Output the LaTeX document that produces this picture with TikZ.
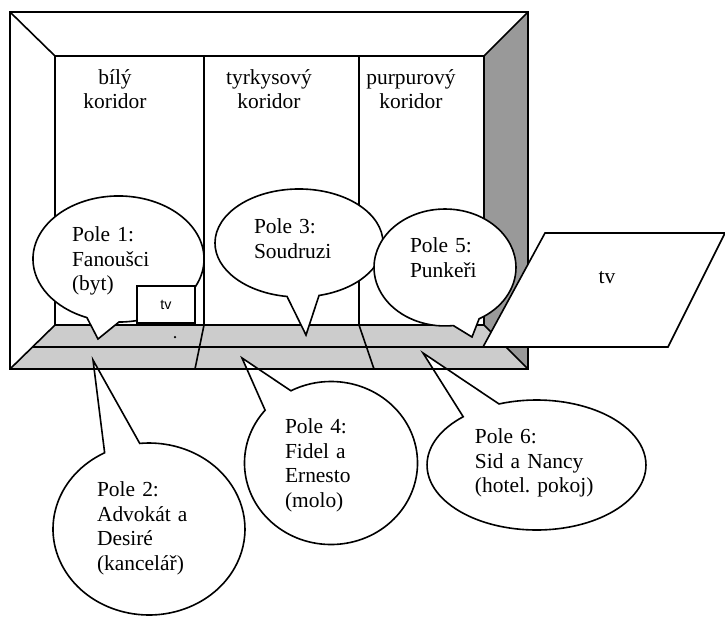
\documentclass[tikz,border=0pt]{standalone}
\usepackage{fontspec}
\setmainfont{Liberation Serif}
\newfontfamily\tvfont{Liberation Sans}
\usetikzlibrary{shapes.callouts}

\begin{document}
\begin{tikzpicture}[x=0.56pt,y=-0.56pt,line width=0.9pt,
  pole/.style={ellipse callout,draw,fill=white,align=left,inner sep=0pt,
    callout pointer arc=22,font=\fontsize{12}{13.8}\selectfont\frenchspacing},
  koridor/.style={align=center,inner sep=0pt,font=\fontsize{12}{13.8}\selectfont}]
\useasboundingbox (0,0) rectangle (725,616);
% room
\coordinate (o1) at (10,12);
\coordinate (o2) at (528,12);
\coordinate (o3) at (528,369);
\coordinate (o4) at (10,369);
\coordinate (i1) at (55,56);
\coordinate (i2) at (484,56);
\coordinate (i3) at (484,325);
\coordinate (i4) at (55,325);
\fill[black!40] (i2) -- (o2) -- (o3) -- (i3) -- cycle;
\fill[black!20] (i4) -- (i3) -- (o3) -- (o4) -- cycle;
\draw (o1) rectangle (o3);
\draw (i1) rectangle (i3);
\draw (o1) -- (i1) (o2) -- (i2) (o3) -- (i3) (o4) -- (i4);
\draw (32.5,347) -- (528,347);
\draw (204,56) -- (204,325) -- (195,369);
\draw (359,56) -- (359,325) -- (374,369);
\fill (175,337) circle (0.7pt);
% corridors
\node[koridor] (bily) at (115,89) {bílý\\koridor};
\node[koridor] (tyrkys) at (269,89) {tyrkysový\\koridor};
\node[koridor] (purpur) at (411,89) {purpurový\\koridor};
% upper bubbles
\node[pole,minimum width=95.8pt,minimum height=70.6pt,text width=52pt,text depth=27.7pt,
  callout absolute pointer={(98,339)}] (pole1) at (118.5,259) {Pole 1:\\Fanoušci\\(byt)};
\node[pole,minimum width=94.1pt,minimum height=60.5pt,text width=50.4pt,text depth=18.9pt,
  callout absolute pointer={(306,335)}] (pole3) at (299,243) {Pole 3:\\Soudruzi};
\node[pole,minimum width=79.5pt,minimum height=65.5pt,text width=39.2pt,text depth=24.9pt,
  callout absolute pointer={(472,337)}] (pole5) at (445,267.5) {Pole 5:\\Punkeři};
\node[draw,fill=white,minimum width=32.5pt,minimum height=20.7pt,
  font=\tvfont\fontsize{8}{9}\selectfont] (tvbox) at (166,304.5) {tv};
% tv screen
\draw[fill=white] (545,233) -- (725,233) -- (668,347) -- (483,347) -- cycle;
\node[font=\fontsize{12}{13.8}\selectfont] (tv) at (607,278) {tv};
% lower bubbles
\node[pole,minimum width=107.5pt,minimum height=96.3pt,text width=58.2pt,text depth=44.5pt,
  callout absolute pointer={(93,360)}] (pole2) at (149,529) {Pole 2:\\Advokát a\\Desiré\\(kancelář)};
\node[pole,minimum width=96.9pt,minimum height=91.3pt,text width=51.5pt,text depth=41.2pt,
  callout absolute pointer={(242,358)}] (pole4) at (331,463) {Pole 4:\\Fidel a\\Ernesto\\(molo)};
\node[pole,minimum width=122.6pt,minimum height=72.8pt,text width=68.9pt,text depth=32.3pt,
  callout absolute pointer={(423,353)}] (pole6) at (536.5,465) {Pole 6:\\Sid a Nancy\\(hotel. pokoj)};
\draw (o4) -- (o3);
\end{tikzpicture}
\end{document}
